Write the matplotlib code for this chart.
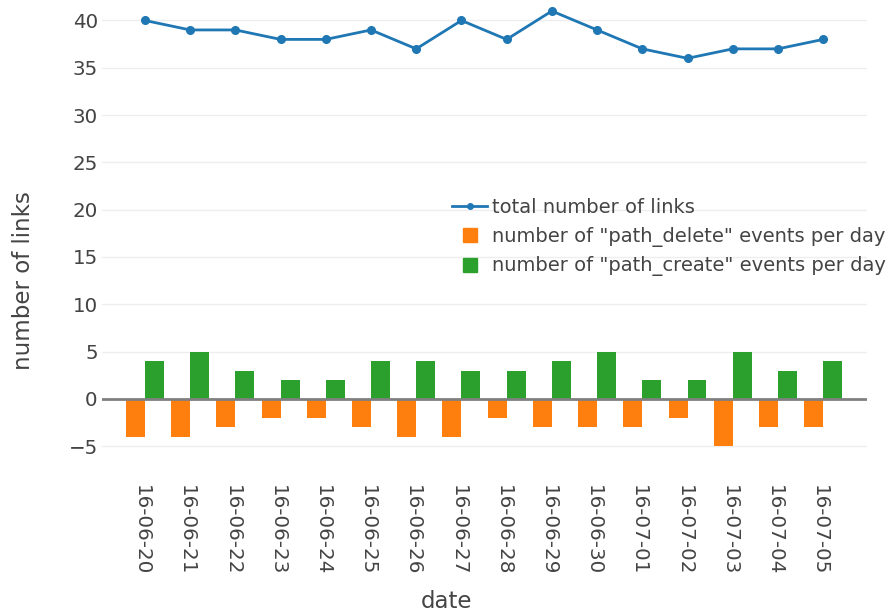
import matplotlib
matplotlib.use("Agg")
import matplotlib.pyplot as plt
import matplotlib.transforms as mtransforms
from matplotlib.lines import Line2D
import numpy as np

dates = ["16-06-20", "16-06-21", "16-06-22", "16-06-23", "16-06-24", "16-06-25",
         "16-06-26", "16-06-27", "16-06-28", "16-06-29", "16-06-30", "16-07-01",
         "16-07-02", "16-07-03", "16-07-04", "16-07-05"]
total_links = [40, 39, 39, 38, 38, 39, 37, 40, 38, 41, 39, 37, 36, 37, 37, 38]
path_delete = [-4, -4, -3, -2, -2, -3, -4, -4, -2, -3, -3, -3, -2, -5, -3, -3]
path_create = [4, 5, 3, 2, 2, 4, 4, 3, 3, 4, 5, 2, 2, 5, 3, 4]

plt.rcParams['font.family'] = ['DejaVu Sans']
W, H = 893, 615
fig = plt.figure(figsize=(W/100, H/100), dpi=100)
ax = fig.add_axes([102/W, 1-467/H, (867-102)/W, 467/H - 0.001])

x = np.arange(len(dates))
w = 0.42
ax.bar(x - w/2, path_delete, width=w, color='#ff7f0e', zorder=2)
ax.bar(x + w/2, path_create, width=w, color='#2ca02c', zorder=2)
ax.plot(x, total_links, color='#1f77b4', lw=2, marker='o', ms=5.5, zorder=3)
ax.axhline(0, color='#808080', lw=2, zorder=2.5)

ax.set_xlim(-0.95, 15.97)
ax.set_ylim(-7.2, 42.1)
ax.set_yticks([-5, 0, 5, 10, 15, 20, 25, 30, 35, 40])
ax.set_yticklabels(['−5', '0', '5', '10', '15', '20', '25', '30', '35', '40'])
ax.set_xticks(x)
ax.set_xticklabels(dates, rotation=-90)
ax.grid(axis='y', color='#eeeeee', lw=1, zorder=0)
ax.set_axisbelow(True)
for s in ax.spines.values():
    s.set_visible(False)
ax.tick_params(length=0, labelsize=14.3, colors='#444444')
ax.tick_params(axis='y', pad=3)
ax.tick_params(axis='x', pad=13)
shift = mtransforms.ScaledTranslation(-0.035, 0, fig.dpi_scale_trans)
for lbl in ax.get_xticklabels():
    lbl.set_transform(lbl.get_transform() + shift)

fig.text(24/W, 1-281/H, 'number of links', rotation=90, fontsize=16.5,
         color='#444444', ha='center', va='center')
fig.text(447/W, 1-601/H, 'date', fontsize=16.5, color='#444444',
         ha='center', va='center')

handles = [
    Line2D([0], [0], color='#1f77b4', lw=2, marker='o', ms=4),
    Line2D([0], [0], color='#ff7f0e', lw=0, marker='s', ms=10),
    Line2D([0], [0], color='#2ca02c', lw=0, marker='s', ms=10),
]
labels = ['total number of links', 'number of "path_delete" events per day',
          'number of "path_create" events per day']
leg = fig.legend(handles, labels, loc='upper left', bbox_to_anchor=(452/W, 1-198/H),
                 frameon=False, fontsize=14, handlelength=1.8, handletextpad=0.26,
                 labelspacing=0.5, borderaxespad=0, borderpad=0)
for t in leg.get_texts():
    t.set_color('#444444')

fig.savefig('out.png', dpi=100)
